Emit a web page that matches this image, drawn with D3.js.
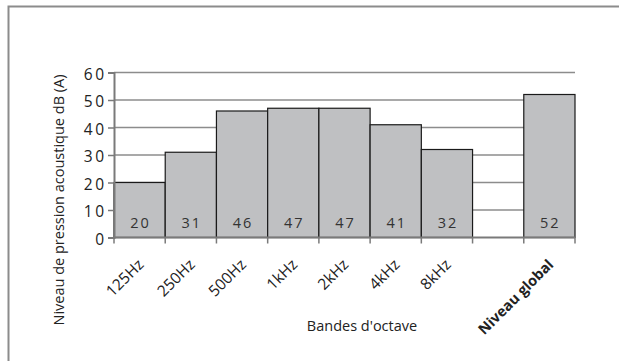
<!DOCTYPE html>
<html>
<head>
<meta charset="utf-8">
<script src="https://cdn.jsdelivr.net/npm/d3@7"></script>
<style>
  html, body { margin: 0; padding: 0; background: #fff; }
  svg { display: block; font-family: "Open Sans", sans-serif; }
</style>
</head>
<body>
<svg id="chart" width="619" height="361"></svg>
<script>
// Octave bands (empty slot separates the bands from the overall level)
const categories = ["125Hz", "250Hz", "500Hz", "1kHz", "2kHz", "4kHz", "8kHz", "", "Niveau global"];
const levels = [20, 31, 46, 47, 47, 41, 32, null, 52];
const yTicks = [0, 10, 20, 30, 40, 50, 60];
const yTitle = "Niveau de pression acoustique dB (A)";
const xTitle = "Bandes d'octave";

const svg = d3.select("#chart");
const margin = { left: 114, right: 44, top: 72.5, bottom: 123.5 };
const W = 619, H = 361;
const x0 = margin.left, x1 = W - margin.right;
const y0 = H - margin.bottom, y1 = margin.top;
const FS = 14.5;

// Outer frame
svg.append("rect")
  .attr("x", 8.5).attr("y", 6.5)
  .attr("width", 640).attr("height", 400)
  .attr("fill", "none").attr("stroke", "#8c8c8c").attr("stroke-width", 2);

const x = d3.scaleBand().domain(d3.range(categories.length)).range([x0, x1]).padding(0);
const y = d3.scaleLinear().domain([0, 60]).range([y0, y1]);

// Horizontal gridlines
svg.append("g").selectAll("line")
  .data(yTicks.filter(d => d > 0))
  .join("line")
  .attr("x1", x0).attr("x2", x1)
  .attr("y1", d => y(d)).attr("y2", d => y(d))
  .attr("stroke", "#8c8c8c").attr("stroke-width", 1.5);

// Bars
const data = categories.map((c, i) => ({ i, c, v: levels[i] })).filter(d => d.v != null);
svg.append("g").selectAll("rect")
  .data(data)
  .join("rect")
  .attr("x", d => x(d.i))
  .attr("y", d => y(d.v))
  .attr("width", x.bandwidth())
  .attr("height", d => y(0) - y(d.v))
  .attr("fill", "#bfc0c2")
  .attr("stroke", "#1a1a1a").attr("stroke-width", 1.2);

// Value labels inside bars
svg.append("g").selectAll("text")
  .data(data)
  .join("text")
  .attr("x", d => x(d.i) + x.bandwidth() / 2 + 1)
  .attr("y", y(0) - 10)
  .attr("text-anchor", "middle")
  .attr("font-size", FS)
  .attr("letter-spacing", 2)
  .attr("fill", "#333")
  .text(d => d.v);

// Y axis
const yAxis = svg.append("g")
  .attr("transform", `translate(${x0},0)`)
  .call(d3.axisLeft(y).tickValues(yTicks).tickSize(6).tickPadding(4));
yAxis.select(".domain").attr("stroke", "#7a7a7a").attr("stroke-width", 2);
yAxis.selectAll(".tick line").attr("stroke", "#7a7a7a").attr("stroke-width", 1.5);
yAxis.selectAll("text")
  .attr("font-size", 15.5).attr("fill", "#222")
  .attr("font-family", "Open Sans, sans-serif")
  .attr("letter-spacing", 2.5)
  .attr("dx", 2.5).attr("dy", "0.45em");

// X axis: ticks at band boundaries
const xAxisG = svg.append("g");
xAxisG.append("line")
  .attr("x1", x0).attr("x2", x1).attr("y1", y0).attr("y2", y0)
  .attr("stroke", "#7a7a7a").attr("stroke-width", 2);
xAxisG.selectAll("line.tk")
  .data(d3.range(categories.length + 1))
  .join("line").attr("class", "tk")
  .attr("x1", i => x0 + i * x.step()).attr("x2", i => x0 + i * x.step())
  .attr("y1", y0).attr("y2", y0 + 6)
  .attr("stroke", "#7a7a7a").attr("stroke-width", 1.5);

// Rotated category labels
xAxisG.selectAll("text")
  .data(categories.map((c, i) => ({ c, i })).filter(d => d.c))
  .join("text")
  .attr("transform", d => `translate(${x(d.i) + x.bandwidth() / 2 + 5},${y0 + 28}) rotate(-45)`)
  .attr("text-anchor", "end")
  .attr("font-size", d => d.c === "Niveau global" ? FS : 15.5)
  .attr("font-weight", d => d.c === "Niveau global" ? "bold" : "normal")
  .attr("fill", "#222")
  .text(d => d.c);

// Axis titles
svg.append("text")
  .attr("transform", `translate(64,200) rotate(-90)`)
  .attr("text-anchor", "middle")
  .attr("font-size", FS)
  .attr("fill", "#222")
  .text(yTitle);

svg.append("text")
  .attr("x", 362).attr("y", 331)
  .attr("text-anchor", "middle")
  .attr("font-size", FS)
  .attr("fill", "#222")
  .text(xTitle);
</script>
</body>
</html>
